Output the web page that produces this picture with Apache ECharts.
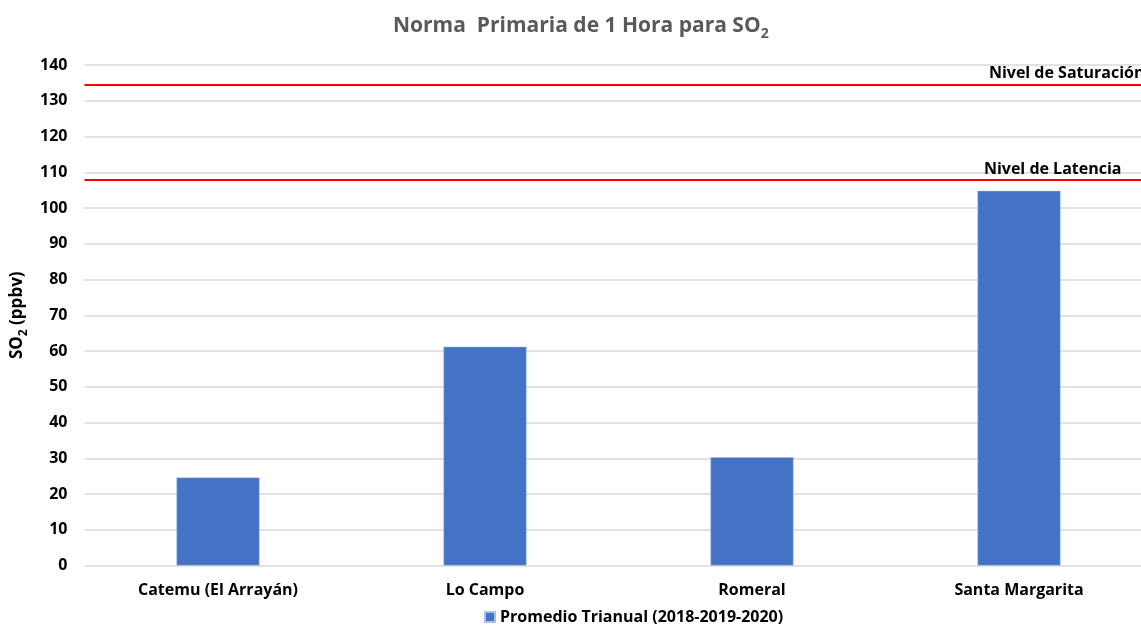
<!DOCTYPE html>
<html><head><meta charset="utf-8">
<script src="https://cdn.jsdelivr.net/npm/echarts@6/dist/echarts.min.js"></script>
<style>html,body{margin:0;padding:0;background:#fff;overflow:hidden}#c{width:1160px;height:628px}</style>
</head><body><div id="c"></div>
<script>
const categories = ['Catemu (El Arrayán)', 'Lo Campo', 'Romeral', 'Santa Margarita'];
const promedio = [24.6, 61.2, 30.3, 104.8];
const saturacion = 134.6;
const latencia = 108;
const seriesName = 'Promedio Trianual (2018-2019-2020)';
const FONT = '"Open Sans", "Noto Sans", sans-serif';

const chart = echarts.init(document.getElementById('c'));
chart.setOption({
  animation: false,
  title: {
    text: '{t|Norma  Primaria de 1 Hora para SO}{s|2}',
    left: 388, top: 7,
    textStyle: {
      rich: {
        t: { fontFamily: FONT, fontSize: 21, fontWeight: 'bold', color: '#595959' },
        s: { fontFamily: FONT, fontSize: 14, fontWeight: 'bold', color: '#595959', padding: [15, 0, 0, 0] }
      }
    }
  },
  legend: {
    bottom: -2, left: 479,
    itemWidth: 10, itemHeight: 10, itemGap: 5,
    icon: 'rect',
    textStyle: { fontFamily: FONT, fontSize: 16, fontWeight: 'bold', color: '#000' },
    data: [seriesName]
  },
  grid: { left: 84.5, right: 7.5, top: 65, bottom: 62.5, containLabel: false },
  xAxis: {
    type: 'category', data: categories,
    axisLine: { show: false }, axisTick: { show: false },
    axisLabel: { fontFamily: FONT, fontSize: 16, fontWeight: 'bold', color: '#000', margin: 17 }
  },
  yAxis: {
    type: 'value', min: 0, max: 140, interval: 10,
    name: '{n|SO}{s|2}{n| (ppbv)}',
    nameLocation: 'middle', nameGap: 55, nameRotate: 90,
    nameTextStyle: {
      rich: {
        n: { fontFamily: FONT, fontSize: 17, fontWeight: 'bold', color: '#000' },
        s: { fontFamily: FONT, fontSize: 12, fontWeight: 'bold', color: '#000', padding: [11, 0, 0, 0] }
      }
    },
    axisLine: { show: false }, axisTick: { show: false },
    axisLabel: { fontFamily: FONT, fontSize: 16, fontWeight: 'bold', color: '#000', margin: 17 },
    splitLine: { lineStyle: { color: '#d9d9d9', width: 1.5 } }
  },
  series: [{
    name: seriesName, type: 'bar', data: promedio, barWidth: 83,
    itemStyle: { color: '#4472c4', borderColor: '#a9bfe6', borderWidth: 0.5 },
    markLine: {
      symbol: 'none', silent: true,
      lineStyle: { color: '#ff0000', type: 'solid', width: 2 },
      data: [
        { yAxis: saturacion, name: 'Nivel de Saturación',
          label: { show: true, formatter: 'Nivel de Saturación', position: 'insideEndTop', distance: [8, 3],
                   fontFamily: FONT, fontSize: 16, fontWeight: 'bold', color: '#000' } },
        { yAxis: latencia, name: 'Nivel de Latencia',
          label: { show: true, formatter: 'Nivel de Latencia', position: 'insideEndTop', distance: [31, 2],
                   fontFamily: FONT, fontSize: 16, fontWeight: 'bold', color: '#000' } }
      ]
    }
  }]
});
</script></body></html>
